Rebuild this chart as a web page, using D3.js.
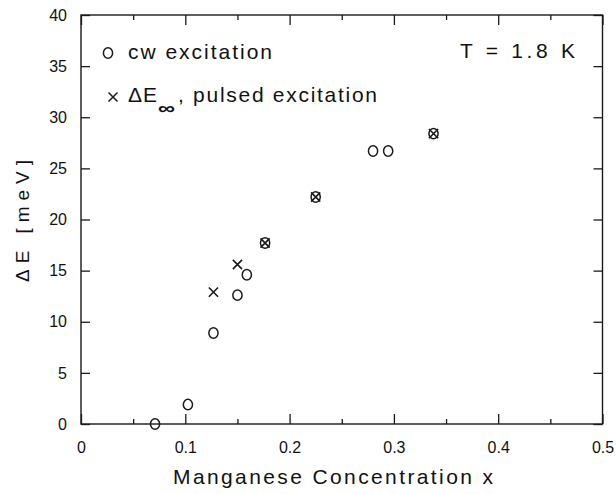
<!DOCTYPE html>
<html>
<head>
<meta charset="utf-8">
<script src="https://cdn.jsdelivr.net/npm/d3@7"></script>
<style>
  html, body { margin: 0; padding: 0; background: #fff; }
  svg { display: block; }
  text { font-family: "Liberation Sans", Arial, sans-serif; fill: #111; }
</style>
</head>
<body>
<svg id="chart" width="616" height="494"></svg>
<script>
// ---- data ----
const cwX = [0.071, 0.1025, 0.127, 0.150, 0.159, 0.1765, 0.225, 0.280, 0.2945, 0.338];
const cwY = [0, 1.9, 8.9, 12.6, 14.6, 17.7, 22.2, 26.7, 26.7, 28.4];
const pulsedX = [0.127, 0.150, 0.1765, 0.225, 0.338];
const pulsedY = [12.9, 15.6, 17.7, 22.2, 28.4];
const xTicks = [0, 0.1, 0.2, 0.3, 0.4, 0.5];
const xTickLabels = ["0", "0.1", "0.2", "0.3", "0.4", "0.5"];
const yTicks = [0, 5, 10, 15, 20, 25, 30, 35, 40];
const yTickLabels = ["0", "5", "10", "15", "20", "25", "30", "35", "40"];
const xMinorTicks = [0.05, 0.15, 0.25, 0.35, 0.45];

(function () {
// ---- layout ----
const svg = d3.select("#chart");
const mL = 81, mR = 602.5, mT = 15, mB = 424;
const x = d3.scaleLinear().domain([0, 0.5]).range([mL, mR]);
const y = d3.scaleLinear().domain([0, 40]).range([mB, mT]);
const ink = "#1a1a1a";

// frame
svg.append("rect")
  .attr("x", mL).attr("y", mT)
  .attr("width", mR - mL).attr("height", mB - mT)
  .attr("fill", "none").attr("stroke", ink).attr("stroke-width", 1.4);

// axes with inward ticks
const fmtX = d => xTickLabels[xTicks.indexOf(d)];
const fmtY = d => yTickLabels[yTicks.indexOf(d)];

const gB = svg.append("g").attr("transform", `translate(0,${mB})`)
  .call(d3.axisBottom(x).tickValues(xTicks).tickSize(-10).tickPadding(18).tickFormat(fmtX));
const gBm = svg.append("g").attr("transform", `translate(0,${mB})`)
  .call(d3.axisBottom(x).tickValues(xMinorTicks).tickSize(-5).tickFormat(""));
const gT = svg.append("g").attr("transform", `translate(0,${mT})`)
  .call(d3.axisTop(x).tickValues(xTicks).tickSize(-10).tickFormat(""));
const gTm = svg.append("g").attr("transform", `translate(0,${mT})`)
  .call(d3.axisTop(x).tickValues(xMinorTicks).tickSize(-5).tickFormat(""));
const gL = svg.append("g").attr("transform", `translate(${mL},0)`)
  .call(d3.axisLeft(y).tickValues(yTicks).tickSize(-9).tickPadding(14).tickFormat(fmtY));
const gR = svg.append("g").attr("transform", `translate(${mR},0)`)
  .call(d3.axisRight(y).tickValues(yTicks).tickSize(-9).tickFormat(""));

[gB, gBm, gT, gTm, gL, gR].forEach(g => {
  g.select(".domain").remove();
  g.selectAll(".tick line").attr("stroke", ink).attr("stroke-width", 1.3);
  g.selectAll(".tick text").attr("fill", ink).style("font-size", "16px")
    .style("font-family", '"Liberation Sans", Arial, sans-serif');
});

// ---- markers ----
const marks = svg.append("g");
marks.selectAll("ellipse.cw").data(cwX.map((v, i) => [v, cwY[i]]))
  .join("ellipse").attr("class", "cw")
  .attr("cx", d => x(d[0])).attr("cy", d => y(d[1]))
  .attr("rx", 4.6).attr("ry", 5.2)
  .attr("fill", "none").attr("stroke", ink).attr("stroke-width", 1.5);

const cs = 4.6;
marks.selectAll("path.px").data(pulsedX.map((v, i) => [v, pulsedY[i]]))
  .join("path").attr("class", "px")
  .attr("d", d => {
    const cx = x(d[0]), cy = y(d[1]);
    return `M${cx - cs},${cy - cs}L${cx + cs},${cy + cs}M${cx - cs},${cy + cs}L${cx + cs},${cy - cs}`;
  })
  .attr("fill", "none").attr("stroke", ink).attr("stroke-width", 1.6);

// ---- legend ----
svg.append("ellipse").attr("cx", 108).attr("cy", 53).attr("rx", 4.6).attr("ry", 5.2)
  .attr("fill", "none").attr("stroke", ink).attr("stroke-width", 1.5);
svg.append("text").attr("x", 128).attr("y", 59).style("font-size", "21px")
  .attr("textLength", 144).attr("lengthAdjust", "spacing").text("cw  excitation");

svg.append("path")
  .attr("d", `M${113 - 4.5},${97 - 4.5}L${113 + 4.5},${97 + 4.5}M${113 - 4.5},${97 + 4.5}L${113 + 4.5},${97 - 4.5}`)
  .attr("stroke", ink).attr("stroke-width", 1.5).attr("fill", "none");
svg.append("text").attr("x", 128).attr("y", 102).style("font-size", "21px")
  .attr("textLength", 29).attr("lengthAdjust", "spacing").text("ΔE");
svg.append("text").attr("x", 158).attr("y", 114).style("font-size", "17px").style("font-weight", "bold")
  .attr("textLength", 17).attr("lengthAdjust", "spacingAndGlyphs").text("∞");
svg.append("text").attr("x", 178).attr("y", 102).style("font-size", "21px")
  .attr("textLength", 199).attr("lengthAdjust", "spacing").text(",  pulsed  excitation");

svg.append("text").attr("x", 460).attr("y", 58).style("font-size", "21px")
  .attr("textLength", 115).attr("lengthAdjust", "spacing").text("T  =  1.8  K");

// ---- axis titles ----
svg.append("text").attr("x", 173).attr("y", 484).style("font-size", "21px")
  .attr("textLength", 320).attr("lengthAdjust", "spacing").text("Manganese  Concentration  x");

svg.append("text").attr("transform", "translate(29,282) rotate(-90)")
  .style("font-size", "19px")
  .attr("textLength", 122).attr("lengthAdjust", "spacing").text("ΔE  [meV]");
})();
</script>
</body>
</html>
